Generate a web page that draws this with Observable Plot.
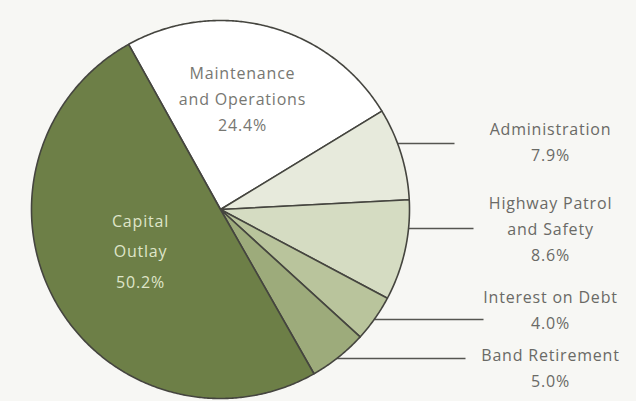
<!DOCTYPE html>
<html>
<head>
<meta charset="utf-8">
<script src="https://cdn.jsdelivr.net/npm/d3@7"></script>
<script src="https://cdn.jsdelivr.net/npm/@observablehq/plot@0.6"></script>
<style>
  html, body { margin: 0; padding: 0; background: #f7f7f4; }
  #chart svg { display: block; }
  #chart svg text { letter-spacing: 0.8px; }
</style>
</head>
<body>
<div id="chart"></div>
<script>
// ---- data ----
const categories = ["Maintenance and Operations", "Administration", "Highway Patrol and Safety", "Interest on Debt", "Band Retirement", "Capital Outlay"];
const shares = [24.4, 7.9, 8.6, 4.0, 5.0, 50.2];
const labelLines = [["Maintenance", "and Operations"], ["Administration"], ["Highway Patrol", "and Safety"], ["Interest on Debt"], ["Band Retirement"], ["Capital", "Outlay"]];

// ---- style / layout ----
const colors = ["#ffffff", "#e7eadc", "#d5dcc2", "#b9c49c", "#9dab7b", "#6d7f47"];
const W = 636, H = 401;
const cx = 220, cy = 209, r = 189;
const startDeg = -29.1;
// label placement: inside (x,y) for inner labels, right column for the others
const labelPos = [
  {x: 242, y: 96, inside: true},
  {x: 550, y: 139},
  {x: 550, y: 226},
  {x: 550, y: 307.5},
  {x: 550, y: 365.5},
  {x: 140, y: 247, inside: true}
];
const leaderY = [null, 143, 228, 319, 358, null];
const leaderEnd = [null, 454, 473, 483, 465, null];

// ---- geometry from data ----
const start = startDeg * Math.PI / 180;
const arcs = d3.pie().sort(null).value(d => d).startAngle(start).endAngle(start + 2 * Math.PI)(shares);
const slicePts = [];
arcs.forEach((a, i) => {
  const name = categories[i];
  slicePts.push({name, x: cx, y: cy});
  const n = Math.max(2, Math.ceil((a.endAngle - a.startAngle) / (Math.PI / 360)));
  for (let k = 0; k <= n; k++) {
    const t = a.startAngle + (a.endAngle - a.startAngle) * k / n;
    slicePts.push({name, x: cx + r * Math.sin(t), y: cy - r * Math.cos(t)});
  }
  slicePts.push({name, x: cx, y: cy});
});

const labels = categories.map((c, i) => ({
  text: labelLines[i].concat([shares[i].toFixed(1) + "%"]).join("\n"),
  x: labelPos[i].x, y: labelPos[i].y, inside: !!labelPos[i].inside, i
}));
const leaders = categories.map((c, i) => leaderY[i] == null ? null : ({
  y: leaderY[i],
  x1: cx + Math.sqrt(r * r - (leaderY[i] - cy) ** 2) - 1,
  x2: leaderEnd[i]
})).filter(d => d);

const outerLabels = labels.filter(d => !d.inside);
const maintLabel = labels.filter(d => d.inside && d.i === 0);
const capLabel = labels.filter(d => d.inside && d.i === 5);

const chart = Plot.plot({
  width: W, height: H, margin: 0,
  style: {background: "transparent"},
  x: {domain: [0, W], range: [0, W], axis: null},
  y: {domain: [0, H], range: [0, H], axis: null},
  color: {domain: categories, range: colors},
  marks: [
    Plot.link(leaders, {x1: "x1", y1: "y", x2: "x2", y2: "y", stroke: "#555550", strokeWidth: 1.6}),
    Plot.line(slicePts, {x: "x", y: "y", z: "name", fill: "name", stroke: "#45453f", strokeWidth: 1.6, strokeLinejoin: "round", curve: "linear"}),
    Plot.text(outerLabels, {x: "x", y: "y", text: "text", fill: "#6a6a66", fontSize: 16, lineHeight: 1.62, lineAnchor: "middle", textAnchor: "middle", fontFamily: "Open Sans"}),
    Plot.text(maintLabel, {x: "x", y: "y", text: "text", fill: "#777772", fontSize: 16, lineHeight: 1.62, lineAnchor: "middle", textAnchor: "middle", fontFamily: "Open Sans"}),
    Plot.text(capLabel, {x: "x", y: "y", text: "text", fill: "#dfe5c9", fontSize: 16, lineHeight: 1.93, lineAnchor: "middle", textAnchor: "middle", fontFamily: "Open Sans"})
  ]
});
document.getElementById("chart").append(chart);
</script>
</body>
</html>
